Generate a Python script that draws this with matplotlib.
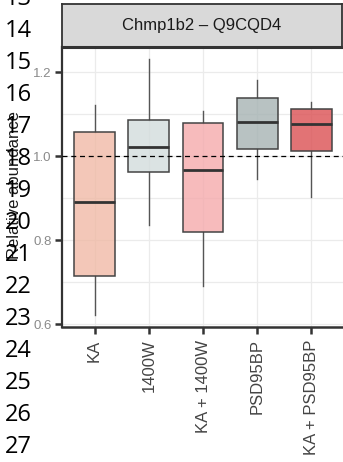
import matplotlib
matplotlib.use("Agg")
import matplotlib.pyplot as plt
from matplotlib.patches import Rectangle


# --------------------------------------------------
# DATA
# --------------------------------------------------
groups = ["KA", "1400W", "KA + 1400W", "PSD95BP", "KA + PSD95BP"]
whisker_low = [0.621, 0.837, 0.692, 0.945, 0.902]
q1 = [0.714, 0.963, 0.820, 1.016, 1.013]
median = [0.891, 1.021, 0.967, 1.082, 1.076]
q3 = [1.058, 1.086, 1.079, 1.139, 1.111]
whisker_high = [1.121, 1.230, 1.107, 1.181, 1.129]
fills = ["#F0BAA6", "#D3DCDC", "#F5AAAC", "#A6B3B3", "#DB5053"]

title = "Chmp1b2 \u2013 Q9CQD4"
ylabel = "Relative abundance"
yticks = [0.6, 0.8, 1.0, 1.2]
line_numbers = list(range(13, 28))

W, H = 343, 462
fig = plt.figure(figsize=(W / 100, H / 100), dpi=100)


def fx(px):
    return px / W


def fy(py):
    return 1 - py / H


# --------------------------------------------------
# PANEL
# --------------------------------------------------
ax = fig.add_axes([fx(62), fy(327), fx(344) - fx(62), fy(47) - fy(327)])
ax.set_xlim(-0.6, 4.6)
ax.set_ylim(0.5936, 1.2595)

ax.set_yticks(yticks)
ax.set_yticklabels([f"{v:.1f}" for v in yticks])
ax.set_yticks([0.7, 0.9, 1.1], minor=True)
ax.set_xticks(range(len(groups)))
ax.set_xticklabels(groups, rotation=90, va="top")

ax.grid(True, which="major", color="#EBEBEB", linewidth=0.9, zorder=0)
ax.grid(True, which="minor", axis="y", color="#EBEBEB", linewidth=0.9, zorder=0)
ax.set_axisbelow(True)

for s in ["top", "right"]:
    ax.spines[s].set_visible(False)
ax.spines["left"].set_color("#333333")
ax.spines["left"].set_linewidth(1.6)
ax.spines["bottom"].set_color("#333333")
ax.spines["bottom"].set_linewidth(1.8)

ax.tick_params(axis="y", which="major", length=5, width=1.8, color="#333333",
               labelsize=9.5, labelcolor="#8A8A8A", pad=2.5)
ax.tick_params(axis="y", which="minor", length=0)
ax.tick_params(axis="x", length=5, width=1.8, color="#333333",
               labelsize=12, labelcolor="#444444", pad=4)
for lab in ax.get_xticklabels() + ax.get_yticklabels():
    lab.set_family("Liberation Sans")

# boxes
bw = 0.75
for i in range(len(groups)):
    ax.plot([i, i], [whisker_low[i], q1[i]], color="#555555", lw=1.0, zorder=2)
    ax.plot([i, i], [q3[i], whisker_high[i]], color="#555555", lw=1.0, zorder=2)
    ax.add_patch(Rectangle((i - bw / 2, q1[i]), bw, q3[i] - q1[i],
                           facecolor=fills[i], alpha=0.8, edgecolor="none", zorder=3))
    ax.add_patch(Rectangle((i - bw / 2, q1[i]), bw, q3[i] - q1[i],
                           facecolor="none", edgecolor="#444444", lw=1.1, zorder=4))
    ax.plot([i - bw / 2, i + bw / 2], [median[i], median[i]],
            color="#333333", lw=2.0, zorder=5, solid_capstyle="butt")

ax.axhline(1.0, color="black", lw=0.9, ls=(0, (4, 3)), zorder=6)

# --------------------------------------------------
# STRIP
# --------------------------------------------------
sx = fig.add_axes([fx(62), fy(47), fx(342) - fx(62), fy(4) - fy(47)])
sx.set_xticks([])
sx.set_yticks([])
sx.set_facecolor("#D9D9D9")
for s in sx.spines.values():
    s.set_color("#333333")
    s.set_linewidth(1.3)
sx.spines["bottom"].set_linewidth(2.2)
sx.text(0.5, 0.5, title, ha="center", va="center", fontsize=12,
        color="#1A1A1A", family="Liberation Sans", transform=sx.transAxes)

# --------------------------------------------------
# LABELS
# --------------------------------------------------
fig.text(fx(15), fy(185), ylabel, rotation=90, ha="center", va="center",
         fontsize=12, color="#1A1A1A", family="Liberation Sans")

for n in line_numbers:
    fig.text(fx(5), fy(31 + 32 * (n - 14)), str(n), ha="left", va="center",
             fontsize=17, color="black", family="Open Sans")

fig.savefig("out.png", dpi=100)
plt.close(fig)
